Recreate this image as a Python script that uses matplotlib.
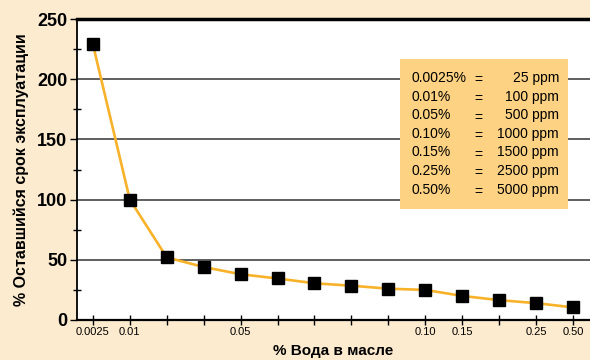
import matplotlib
matplotlib.use('Agg')
import matplotlib.pyplot as plt
from matplotlib.patches import Rectangle
from matplotlib.ticker import MultipleLocator
import numpy as np

# data
x_labels = ['0.0025', '0.01', '', '', '0.05', '', '', '', '', '0.10', '0.15', '', '0.25', '0.50']
life = [229, 100, 52, 44, 38, 34.5, 30.5, 28.5, 26, 25, 20, 16.5, 14, 10.5]
pct = ['0.0025%', '0.01%', '0.05%', '0.10%', '0.15%', '0.25%', '0.50%']
ppm = ['25 ppm', '100 ppm', '500 ppm', '1000 ppm', '1500 ppm', '2500 ppm', '5000 ppm']

bg = '#fdebcf'
box = '#fdd282'
orange = '#f8b22a'

plt.rcParams['font.family'] = ['Liberation Sans', 'DejaVu Sans']

fig = plt.figure(figsize=(5.9, 3.6), dpi=100, facecolor=bg)
ax = fig.add_axes([77/590, 40/360, 1 - 77/590, 301/360])
ax.set_facecolor('white')

xs = np.arange(len(life))
ax.plot(xs, life, '-', color=orange, lw=1.9, zorder=3)
ax.plot(xs, life, 's', color='black', ms=9, zorder=4)

ax.set_xlim(-0.43, 13.46)
ax.set_ylim(0, 250)

ax.set_xticks(xs)
ax.set_xticklabels(x_labels, fontsize=8)
ax.tick_params(axis='x', direction='inout', length=6.5, width=1, pad=2)

ax.yaxis.set_major_locator(MultipleLocator(50))
ax.yaxis.set_minor_locator(MultipleLocator(25))
ax.tick_params(axis='y', which='major', direction='out', length=5, width=1, labelsize=13, pad=2)
ax.tick_params(axis='y', which='minor', direction='inout', length=6, width=1)
for t in ax.get_yticklabels():
    t.set_fontweight('bold')

ax.grid(axis='y', which='major', color='#444444', lw=1.2)
ax.set_axisbelow(True)

ax.spines['right'].set_visible(False)
ax.spines['top'].set_linewidth(2.5)
ax.spines['left'].set_linewidth(1.3)
ax.spines['bottom'].set_linewidth(1.6)

ax.set_ylabel('% Оставшийся срок эксплуатации', fontsize=11.5, fontweight='bold', labelpad=6)
ax.set_xlabel('% Вода в масле', fontsize=11, fontweight='bold', labelpad=5)

# conversion table
ax.add_patch(Rectangle((0.6296, 0.369), 0.3274, 0.498, transform=ax.transAxes,
                       facecolor=box, edgecolor='none', zorder=5))
for i, (p, q) in enumerate(zip(pct, ppm)):
    yy = 0.804 - i * 0.0618
    kw = dict(transform=ax.transAxes, fontsize=10, va='center', zorder=6)
    ax.text(0.652, yy, p, ha='left', **kw)
    ax.text(0.782, yy - 0.008, '=', ha='center', **kw)
    ax.text(0.9396, yy, q, ha='right', **kw)

fig.savefig('out.png', dpi=100, facecolor=bg)
